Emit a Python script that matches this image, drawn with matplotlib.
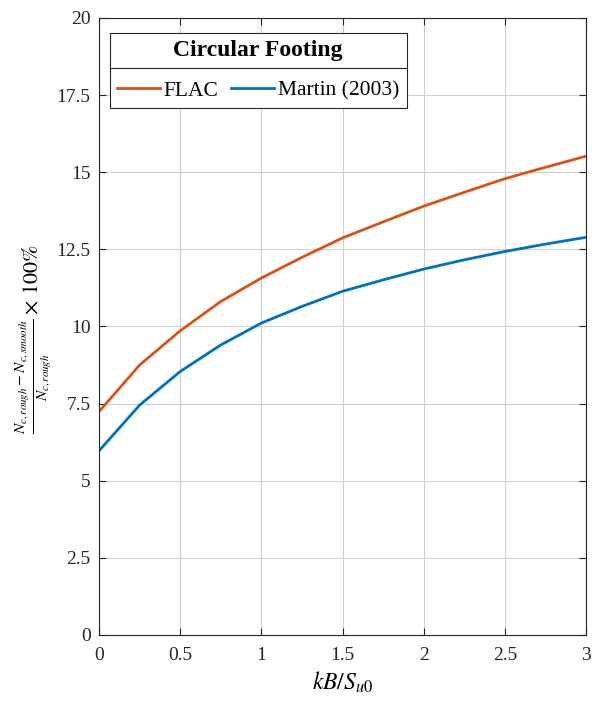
#!/usr/bin/env python
# coding: utf-8

import matplotlib
matplotlib.use('Agg')
from matplotlib import pyplot as plt
from matplotlib.lines import Line2D

# kB/Su0 values and the two series
x_vals = [0, 0.25, 0.5, 0.75, 1.0, 1.25, 1.5, 1.75, 2.0, 2.25, 2.5, 2.75, 3.0]
flac = [7.24, 8.75, 9.86, 10.81, 11.57, 12.24, 12.87, 13.39, 13.90, 14.35, 14.79, 15.16, 15.52]
martin = [5.97, 7.45, 8.54, 9.40, 10.11, 10.65, 11.14, 11.51, 11.86, 12.16, 12.43, 12.67, 12.89]
x_ticks = [0, 0.5, 1, 1.5, 2, 2.5, 3]
x_ticklabels = ['0', '0.5', '1', '1.5', '2', '2.5', '3']
y_ticks = [0, 2.5, 5, 7.5, 10, 12.5, 15, 17.5, 20]
y_ticklabels = ['0', '2.5', '5', '7.5', '10', '12.5', '15', '17.5', '20']

plt.rcParams['font.family'] = ['Liberation Serif', 'DejaVu Serif']
plt.rcParams['mathtext.fontset'] = 'stix'

fig = plt.figure(figsize=(5.98, 7.02), dpi=100)
ax = fig.add_axes([0.1656, 0.0955, 0.8144, 0.8789])

ax.plot(x_vals, flac, color='#D95319', lw=2, label='FLAC')
ax.plot(x_vals, martin, color='#0072BD', lw=2, label='Martin (2003)')

ax.set_xlim(0, 3)
ax.set_ylim(0, 20)
ax.set_xticks(x_ticks)
ax.set_xticklabels(x_ticklabels)
ax.set_yticks(y_ticks)
ax.set_yticklabels(y_ticklabels)
ax.tick_params(direction='in', top=True, right=True, labelsize=14, length=5, colors='#262626')
ax.tick_params(axis='x', pad=9)
ax.tick_params(axis='y', pad=6)
ax.grid(True, color='#d0d0d0', lw=0.8)
for s in ax.spines.values():
    s.set_color('#262626')
    s.set_linewidth(0.8)

ax.set_xlabel(r'$kB/S_{u0}$', fontsize=17, labelpad=4)
ax.set_ylabel(r'$\frac{N_{c,rough}-N_{c,smooth}}{N_{c,rough}}\times\,\mathit{100\%}$',
              fontsize=16)
ax.yaxis.set_label_coords(-0.092, 0.48)

leg = ax.legend(loc='upper left', bbox_to_anchor=(0.022, 0.976), borderaxespad=0,
                ncol=2, title='Circular Footing', fontsize=15.5,
                title_fontproperties={'weight': 'bold', 'size': 17},
                handlelength=2.0, handletextpad=0.15, columnspacing=0.6,
                borderpad=0.35, labelspacing=0.3,
                fancybox=False, framealpha=1, edgecolor='#262626')
leg.get_frame().set_linewidth(0.8)
leg._legend_box.sep = 14

# separator line below the legend title
fig.canvas.draw()
inv = fig.transFigure.inverted()
fb = leg.get_frame().get_window_extent()
tb = leg.get_title().get_window_extent()
y_sep = tb.y0 - 7
(x0, ys), (x1, _) = inv.transform([(fb.x0, y_sep), (fb.x1, y_sep)])
fig.add_artist(Line2D([x0, x1], [ys, ys], transform=fig.transFigure, color='#262626', lw=0.8))

fig.savefig('out.png', dpi=100)
